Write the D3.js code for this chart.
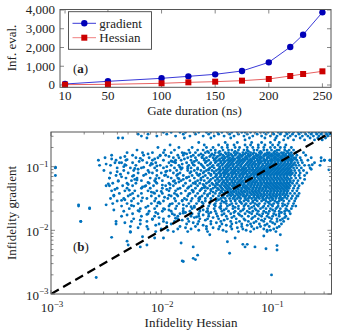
<!DOCTYPE html>
<html><head><meta charset="utf-8">
<script src="https://cdn.jsdelivr.net/npm/d3@7"></script>
<style>body{margin:0;background:#fff}svg{display:block}text{font-family:'Liberation Serif',serif;fill:#222}</style>
</head><body><svg id="c" width="337" height="335"></svg>
<script>
// ---------- panel (a) data ----------
const gateDur = [10, 50, 100, 125, 150, 175, 200, 220, 232, 250];
const evalGradient = [53, 196, 356, 462, 569, 747, 1209, 2027, 2684, 3876];
const evalHessian = [18, 36, 89, 142, 178, 231, 320, 480, 587, 729];
const xTicksA = [10, 50, 100, 150, 200, 250];
const yTicksA = [0, 1000, 2000, 3000, 4000];

// ---------- panel (b) data (log10 of infidelity), read row by row ----------
const gradRowsLog = [-0.46,-0.49,-0.52,-0.55,-0.58,-0.62,-0.66,-0.70,-0.74,-0.78,-0.82,-0.86,-0.90,-0.94,-0.98,-1.02,-1.06,-1.10,-1.14,-1.18,-1.22,-1.26,-1.30,-1.34,-1.38,-1.42,-1.46,-1.50,-1.54,-1.58,-1.62,-1.66,-1.70,-1.74,-1.78,-1.82,-1.86,-1.90,-1.94,-1.98,-2.02];
const hessRowsLog = [
[-1.98,-1.91,-1.83,-1.78,-1.70,-1.66,-1.59,-1.55,-1.49,-1.45,-1.40,-1.36,-1.31,-1.27,-1.24,-1.19,-1.15,-1.10,-1.07,-1.03,-0.99,-0.94,-0.91,-0.87,-0.84,-0.80,-0.76,-0.73,-0.70,-0.66,-0.63,-0.60,-0.57,-0.54,-0.51,-0.48],
[-2.21,-2.12,-1.95,-1.80,-1.69,-1.57,-1.48,-1.38,-1.30,-1.22,-1.13,-1.05,-0.98,-0.92,-0.86,-0.81,-0.75,-0.69,-0.64,-0.59,-0.55,-0.50,-0.47],
[-2.18,-2.04,-1.87,-1.74,-1.62,-1.52,-1.43,-1.34,-1.25,-1.17,-1.09,-1.01,-0.95,-0.88,-0.83,-0.78,-0.72,-0.67,-0.62,-0.57,-0.53,-0.49],
[-2.39,-2.35,-2.13,-1.79,-1.55,-1.37,-1.20,-1.06,-0.96,-0.85,-0.74,-0.65,-0.58,-0.51],
[-1.24,-0.97,-0.89,-0.80,-0.70,-0.61,-0.54],
[-1.66,-1.42,-1.31,-1.18,-1.09,-1.01,-0.93],
[-1.92,-1.61,-1.48,-1.40,-1.34,-1.24,-1.19,-1.12,-1.06,-0.99,-0.94,-0.87],
[-2.03,-1.84,-1.72,-1.59,-1.53,-1.45,-1.40,-1.33,-1.29,-1.22,-1.17,-1.12,-1.07,-1.01,-0.97,-0.92,-0.88,-0.82],
[-2.22,-1.97,-1.88,-1.75,-1.67,-1.62,-1.55,-1.51,-1.44,-1.39,-1.36,-1.30,-1.25,-1.22,-1.16,-1.13,-1.07,-1.04,-1.00,-0.95,-0.93,-0.88,-0.84,-0.80],
[-2.31,-2.17,-2.08,-1.98,-1.91,-1.81,-1.74,-1.69,-1.60,-1.57,-1.51,-1.48,-1.42,-1.39,-1.34,-1.31,-1.26,-1.23,-1.19,-1.16,-1.11,-1.09,-1.04,-1.02,-0.98,-0.95,-0.91,-0.89,-0.85,-0.82,-0.78,-0.71],
[-2.45,-2.26,-2.16,-2.01,-1.96,-1.85,-1.80,-1.71,-1.66,-1.62,-1.55,-1.52,-1.47,-1.44,-1.39,-1.36,-1.33,-1.28,-1.26,-1.21,-1.19,-1.14,-1.12,-1.07,-1.05,-1.01,-0.99,-0.95,-0.93,-0.89,-0.87,-0.83,-0.81,-0.77,-0.69],
[-2.51,-2.37,-2.23,-2.11,-2.03,-1.89,-1.84,-1.76,-1.69,-1.63,-1.59,-1.53,-1.50,-1.45,-1.42,-1.38,-1.35,-1.31,-1.29,-1.24,-1.22,-1.17,-1.15,-1.11,-1.09,-1.04,-1.02,-0.98,-0.96,-0.92,-0.90,-0.86,-0.84,-0.80,-0.78,-0.74,-0.64,-0.55],
[-2.57,-2.41,-2.32,-2.17,-2.08,-1.98,-1.87,-1.82,-1.73,-1.68,-1.61,-1.57,-1.52,-1.48,-1.44,-1.40,-1.37,-1.34,-1.30,-1.27,-1.24,-1.20,-1.18,-1.13,-1.11,-1.07,-1.05,-1.01,-0.99,-0.95,-0.93,-0.89,-0.87,-0.83,-0.81,-0.77,-0.73,-0.67,-0.52,-0.47],
[-2.42,-2.38,-2.36,-2.26,-2.13,-2.05,-1.93,-1.87,-1.77,-1.72,-1.66,-1.60,-1.55,-1.51,-1.46,-1.43,-1.39,-1.36,-1.32,-1.29,-1.26,-1.22,-1.19,-1.16,-1.12,-1.10,-1.06,-1.03,-1.00,-0.97,-0.94,-0.91,-0.88,-0.85,-0.82,-0.79,-0.76,-0.72,-0.61],
[-2.56,-2.46,-2.32,-2.23,-2.10,-2.01,-1.91,-1.84,-1.75,-1.70,-1.63,-1.58,-1.53,-1.49,-1.45,-1.41,-1.38,-1.35,-1.31,-1.28,-1.24,-1.21,-1.18,-1.15,-1.12,-1.08,-1.05,-1.02,-0.99,-0.96,-0.93,-0.90,-0.87,-0.84,-0.81,-0.78,-0.75,-0.70,-0.66,-0.56],
[-2.96,-2.40,-2.28,-2.18,-2.06,-1.98,-1.88,-1.81,-1.73,-1.67,-1.61,-1.56,-1.52,-1.47,-1.44,-1.40,-1.37,-1.33,-1.30,-1.26,-1.23,-1.20,-1.17,-1.13,-1.10,-1.07,-1.04,-1.01,-0.98,-0.95,-0.92,-0.89,-0.86,-0.83,-0.80,-0.77,-0.73,-0.65],
[-2.52,-2.34,-2.25,-2.12,-2.04,-1.92,-1.86,-1.76,-1.70,-1.64,-1.59,-1.54,-1.50,-1.46,-1.42,-1.39,-1.35,-1.32,-1.28,-1.25,-1.22,-1.18,-1.15,-1.12,-1.09,-1.06,-1.03,-1.00,-0.97,-0.94,-0.91,-0.88,-0.85,-0.82,-0.79,-0.75,-0.71],
[-2.46,-2.30,-2.21,-2.08,-2.00,-1.89,-1.83,-1.74,-1.68,-1.62,-1.57,-1.52,-1.48,-1.44,-1.41,-1.37,-1.34,-1.30,-1.27,-1.24,-1.20,-1.17,-1.14,-1.11,-1.08,-1.05,-1.02,-0.99,-0.96,-0.93,-0.90,-0.87,-0.84,-0.81,-0.78,-0.74],
[-2.96,-2.41,-2.25,-2.16,-2.04,-1.97,-1.86,-1.80,-1.72,-1.66,-1.60,-1.55,-1.50,-1.46,-1.43,-1.39,-1.36,-1.32,-1.29,-1.26,-1.22,-1.19,-1.16,-1.13,-1.10,-1.07,-1.04,-1.01,-0.98,-0.95,-0.92,-0.89,-0.86,-0.83,-0.79,-0.75,-0.70],
[-2.47,-2.32,-2.22,-2.10,-2.02,-1.91,-1.85,-1.77,-1.70,-1.64,-1.58,-1.53,-1.49,-1.45,-1.41,-1.38,-1.34,-1.31,-1.27,-1.24,-1.21,-1.18,-1.15,-1.12,-1.09,-1.06,-1.03,-1.00,-0.97,-0.94,-0.91,-0.88,-0.85,-0.82,-0.78,-0.74],
[-2.39,-2.27,-2.18,-2.06,-1.99,-1.88,-1.82,-1.74,-1.67,-1.61,-1.56,-1.51,-1.47,-1.43,-1.40,-1.36,-1.33,-1.29,-1.26,-1.23,-1.19,-1.16,-1.13,-1.10,-1.07,-1.04,-1.01,-0.98,-0.95,-0.92,-0.89,-0.86,-0.83,-0.80,-0.76],
[-2.44,-2.31,-2.23,-2.11,-2.04,-1.93,-1.87,-1.78,-1.71,-1.65,-1.59,-1.54,-1.50,-1.45,-1.42,-1.38,-1.35,-1.31,-1.28,-1.25,-1.21,-1.18,-1.15,-1.12,-1.09,-1.06,-1.03,-1.00,-0.97,-0.94,-0.91,-0.88,-0.85,-0.81,-0.77,-0.72],
[-2.50,-2.47,-2.35,-2.26,-2.14,-2.07,-1.96,-1.89,-1.80,-1.73,-1.67,-1.61,-1.56,-1.51,-1.47,-1.43,-1.40,-1.36,-1.33,-1.29,-1.26,-1.23,-1.19,-1.16,-1.13,-1.10,-1.07,-1.04,-1.01,-0.98,-0.95,-0.92,-0.89,-0.86,-0.83,-0.79,-0.75],
[-2.40,-2.31,-2.18,-2.10,-1.99,-1.92,-1.83,-1.76,-1.69,-1.63,-1.58,-1.53,-1.49,-1.45,-1.41,-1.38,-1.34,-1.31,-1.27,-1.24,-1.21,-1.17,-1.14,-1.11,-1.08,-1.05,-1.02,-0.99,-0.96,-0.93,-0.90,-0.87,-0.84,-0.80,-0.76],
[-2.45,-2.33,-2.24,-2.12,-2.04,-1.93,-1.87,-1.78,-1.71,-1.65,-1.60,-1.55,-1.50,-1.46,-1.42,-1.39,-1.35,-1.32,-1.28,-1.25,-1.22,-1.18,-1.15,-1.12,-1.09,-1.06,-1.03,-1.00,-0.97,-0.94,-0.91,-0.88,-0.85,-0.81,-0.77],
[-2.38,-2.26,-2.18,-2.06,-1.99,-1.88,-1.82,-1.74,-1.67,-1.61,-1.56,-1.51,-1.47,-1.43,-1.39,-1.36,-1.32,-1.29,-1.26,-1.22,-1.19,-1.16,-1.13,-1.10,-1.07,-1.04,-1.01,-0.98,-0.95,-0.92,-0.89,-0.86,-0.83,-0.79,-0.75],
[-2.43,-2.30,-2.21,-2.09,-2.02,-1.91,-1.85,-1.76,-1.69,-1.63,-1.58,-1.53,-1.48,-1.44,-1.40,-1.37,-1.33,-1.30,-1.26,-1.23,-1.20,-1.16,-1.13,-1.10,-1.07,-1.04,-1.01,-0.98,-0.95,-0.92,-0.88,-0.85,-0.81,-0.77],
[-2.46,-2.34,-2.25,-2.13,-2.05,-1.94,-1.88,-1.79,-1.72,-1.66,-1.60,-1.55,-1.50,-1.46,-1.42,-1.38,-1.35,-1.31,-1.28,-1.24,-1.21,-1.18,-1.14,-1.11,-1.08,-1.05,-1.02,-0.99,-0.96,-0.93,-0.90,-0.86,-0.82,-0.78],
[-2.40,-2.27,-2.18,-2.06,-1.98,-1.87,-1.81,-1.73,-1.66,-1.60,-1.55,-1.50,-1.45,-1.41,-1.37,-1.33,-1.29,-1.25,-1.21,-1.17,-1.13,-1.09,-1.05,-1.01,-0.97,-0.93,-0.89,-0.84,-0.79],
[-2.44,-2.31,-2.21,-2.09,-2.01,-1.90,-1.84,-1.75,-1.68,-1.62,-1.56,-1.51,-1.46,-1.41,-1.36,-1.32,-1.27,-1.23,-1.19,-1.15,-1.11,-1.06,-1.02,-0.98,-0.94,-0.90,-0.85,-0.80],
[-2.75,-2.36,-2.25,-2.12,-2.04,-1.93,-1.86,-1.77,-1.70,-1.63,-1.57,-1.51,-1.46,-1.40,-1.35,-1.30,-1.25,-1.21,-1.16,-1.12,-1.07,-1.03,-0.99,-0.94,-0.90,-0.86,-0.81],
[-2.65,-2.29,-2.19,-2.06,-1.98,-1.87,-1.80,-1.72,-1.65,-1.58,-1.52,-1.46,-1.41,-1.35,-1.30,-1.25,-1.20,-1.15,-1.10,-1.05,-1.01,-0.96,-0.92,-0.87,-0.82],
[-2.34,-2.20,-2.11,-1.99,-1.91,-1.80,-1.74,-1.65,-1.58,-1.51,-1.45,-1.39,-1.33,-1.28,-1.22,-1.17,-1.12,-1.07,-1.02,-0.97,-0.93,-0.88,-0.84],
[-2.26,-2.12,-2.03,-1.90,-1.83,-1.72,-1.66,-1.57,-1.50,-1.43,-1.37,-1.30,-1.24,-1.18,-1.13,-1.08,-1.03,-0.98,-0.93,-0.88,-0.83],
[-2.36,-2.18,-2.06,-1.93,-1.85,-1.73,-1.66,-1.57,-1.49,-1.41,-1.34,-1.27,-1.21,-1.15,-1.09,-1.04,-0.99,-0.93,-0.87],
[-2.25,-2.08,-1.98,-1.85,-1.76,-1.65,-1.58,-1.48,-1.40,-1.32,-1.25,-1.18,-1.12,-1.06,-1.00,-0.95,-0.90,-0.85],
[-2.73,-2.41,-2.27,-2.13,-1.98,-1.88,-1.75,-1.66,-1.55,-1.46,-1.37,-1.29,-1.21,-1.14,-1.07,-1.01,-0.95,-0.89],
[-2.41,-2.19,-2.02,-1.91,-1.77,-1.67,-1.55,-1.45,-1.36,-1.27,-1.19,-1.11,-1.04,-0.97,-0.91],
[-2.28,-2.13,-1.95,-1.83,-1.69,-1.59,-1.47,-1.37,-1.27,-1.18,-1.10,-1.02,-0.93],
[-2.12,-2.00,-1.85,-1.73,-1.59,-1.48,-1.36,-1.26,-1.16,-1.07,-0.98],
[-2.28,-2.05,-1.89,-1.76,-1.58,-1.41,-1.30,-1.19,-1.04,-0.96]
];
// in-between rows that fill the dense core
const gradRowsLog2 = [-0.76,-0.80,-0.84,-0.88,-0.92,-0.96,-1.00,-1.04,-1.08,-1.12,-1.16,-1.20,-1.24,-1.28,-1.32,-1.36,-1.40,-1.44,-1.48,-1.52,-1.56,-1.60,-1.64,-1.68,-1.72,-1.76,-1.80,-1.84,-1.88,-1.92,-1.96,-2.00];
const hessRowsLog2 = [
[-1.58,-1.47,-1.33,-1.21,-1.10,-0.97,-0.86],
[-2.12,-1.77,-1.64,-1.54,-1.46,-1.41,-1.37,-1.32,-1.29,-1.24,-1.21,-1.17,-1.14,-1.10,-1.06,-1.03,-1.00,-0.97,-0.93,-0.90,-0.87,-0.84],
[-2.33,-1.93,-1.73,-1.56,-1.49,-1.43,-1.40,-1.35,-1.30,-1.27,-1.23,-1.20,-1.16,-1.13,-1.10,-1.07,-1.03,-1.00,-0.97,-0.94,-0.91,-0.88,-0.85,-0.82],
[-2.45,-2.06,-1.79,-1.61,-1.51,-1.47,-1.43,-1.39,-1.36,-1.33,-1.29,-1.26,-1.22,-1.19,-1.16,-1.13,-1.10,-1.07,-1.04,-1.00,-0.97,-0.94,-0.91,-0.88,-0.85,-0.82,-0.79],
[-2.20,-1.90,-1.70,-1.59,-1.50,-1.46,-1.42,-1.38,-1.35,-1.31,-1.28,-1.25,-1.21,-1.18,-1.15,-1.12,-1.09,-1.06,-1.03,-1.00,-0.97,-0.94,-0.91,-0.88,-0.85,-0.82],
[-2.50,-2.08,-1.81,-1.64,-1.56,-1.48,-1.44,-1.40,-1.37,-1.34,-1.30,-1.27,-1.23,-1.20,-1.17,-1.14,-1.11,-1.08,-1.04,-1.01,-0.98,-0.95,-0.92,-0.89,-0.86,-0.83,-0.80],
[-2.34,-1.95,-1.76,-1.62,-1.54,-1.47,-1.42,-1.39,-1.35,-1.32,-1.28,-1.25,-1.21,-1.18,-1.15,-1.12,-1.09,-1.06,-1.03,-1.00,-0.97,-0.94,-0.91,-0.88,-0.85,-0.82],
[-2.21,-1.82,-1.67,-1.57,-1.48,-1.44,-1.41,-1.37,-1.34,-1.30,-1.27,-1.24,-1.20,-1.17,-1.14,-1.11,-1.08,-1.05,-1.02,-0.99,-0.96,-0.93,-0.90,-0.87,-0.84],
[-2.40,-1.96,-1.73,-1.61,-1.52,-1.47,-1.43,-1.40,-1.36,-1.33,-1.30,-1.26,-1.23,-1.20,-1.16,-1.13,-1.10,-1.07,-1.04,-1.01,-0.98,-0.95,-0.92,-0.89,-0.86,-0.83],
[-2.14,-1.85,-1.65,-1.55,-1.50,-1.46,-1.42,-1.39,-1.35,-1.32,-1.28,-1.25,-1.22,-1.18,-1.15,-1.12,-1.09,-1.06,-1.03,-1.00,-0.97,-0.94,-0.91,-0.88,-0.85,-0.82],
[-2.36,-1.94,-1.75,-1.62,-1.51,-1.47,-1.43,-1.40,-1.36,-1.33,-1.29,-1.26,-1.23,-1.20,-1.16,-1.13,-1.10,-1.07,-1.04,-1.01,-0.98,-0.95,-0.92,-0.89,-0.86],
[-2.24,-1.80,-1.64,-1.55,-1.49,-1.45,-1.41,-1.38,-1.35,-1.31,-1.28,-1.24,-1.21,-1.18,-1.15,-1.11,-1.08,-1.05,-1.02,-0.99,-0.96,-0.93,-0.90,-0.87,-0.84],
[-2.05,-1.84,-1.69,-1.57,-1.48,-1.44,-1.40,-1.36,-1.33,-1.30,-1.27,-1.23,-1.20,-1.17,-1.14,-1.10,-1.07,-1.04,-1.01,-0.98,-0.95,-0.92,-0.89,-0.86,-0.83],
[-2.30,-1.92,-1.62,-1.53,-1.49,-1.45,-1.41,-1.38,-1.34,-1.31,-1.28,-1.25,-1.21,-1.18,-1.15,-1.12,-1.09,-1.05,-1.02,-0.99,-0.96,-0.93,-0.90,-0.87,-0.84],
[-2.17,-1.75,-1.60,-1.51,-1.46,-1.42,-1.39,-1.35,-1.32,-1.29,-1.25,-1.22,-1.19,-1.16,-1.13,-1.10,-1.06,-1.03,-1.00,-0.97,-0.94,-0.91,-0.88,-0.85],
[-2.42,-1.95,-1.64,-1.55,-1.48,-1.44,-1.40,-1.37,-1.33,-1.30,-1.27,-1.23,-1.20,-1.17,-1.14,-1.11,-1.08,-1.05,-1.01,-0.98,-0.95,-0.92,-0.89,-0.86],
[-2.09,-1.71,-1.53,-1.45,-1.41,-1.37,-1.34,-1.30,-1.27,-1.24,-1.20,-1.17,-1.14,-1.11,-1.07,-1.04,-1.01,-0.98,-0.95,-0.92,-0.89,-0.86],
[-2.28,-1.86,-1.58,-1.43,-1.38,-1.35,-1.31,-1.28,-1.25,-1.22,-1.18,-1.15,-1.12,-1.09,-1.06,-1.02,-0.99,-0.96,-0.93,-0.90,-0.87],
[-1.97,-1.65,-1.44,-1.34,-1.29,-1.24,-1.20,-1.16,-1.12,-1.08,-1.04,-1.00,-0.96,-0.92,-0.88],
[-2.33,-1.77,-1.48,-1.33,-1.23,-1.15,-1.07,-0.99,-0.91],
[-2.02,-1.63,-1.43,-1.28,-1.17,-1.03,-0.95],
[-2.50,-1.80,-1.52,-1.38,-1.24,-1.13,-1.00,-0.88],
[-2.14,-1.70,-1.47,-1.33,-1.18,-1.08,-0.95],
[-2.43,-1.93,-1.62,-1.43,-1.26,-1.14,-0.99,-0.86],
[-2.05,-1.78,-1.55,-1.34,-1.20,-1.05,-0.91],
[-2.31,-1.88,-1.62,-1.45,-1.29,-1.11,-0.96],
[-2.02,-1.70,-1.53,-1.36,-1.17,-1.02,-0.88],
[-2.19,-1.81,-1.60,-1.43,-1.24,-1.09,-0.92],
[-2.33,-1.95,-1.71,-1.50,-1.32,-1.16,-0.99],
[-2.05,-1.62,-1.41,-1.22,-1.06],
[-2.21,-1.78,-1.53,-1.31,-1.13,-0.95],
[-1.94,-1.66,-1.44,-1.23,-1.01]
];
// scattered points on the left side of the cloud (log10 Hessian, log10 gradient)
const leftHessLog = [-2.48,-2.43,-2.37,-2.33,-2.29,-2.27,-2.24,-2.22,-2.19,-2.17,-2.15,-2.13,-2.11,-2.09,-2.07,-2.05,-2.03,-2.01,-1.99,-1.97,-1.95,-1.93,-1.91,-1.89,-1.87,-1.85,-1.83,-1.81,-1.79,-1.77,-1.75,-1.73,-1.71,-1.69,-1.67,-1.65,-1.63,-1.61,-1.59,-1.57,-2.36,-2.31,-2.26,-2.21,-2.16,-2.12,-2.08,-2.04,-2.00,-1.96,-1.92,-1.88,-1.84,-1.80,-1.76,-1.72,-1.68,-1.64];
const leftGradLog = [-1.27,-1.45,-1.12,-0.97,-1.37,-1.61,-1.03,-1.21,-0.87,-1.49,-1.31,-1.75,-1.09,-0.95,-1.41,-1.19,-1.57,-0.83,-1.29,-1.67,-1.07,-1.45,-0.91,-1.23,-1.81,-1.35,-1.01,-1.53,-0.79,-1.17,-1.43,-1.63,-0.97,-1.27,-1.13,-1.51,-0.85,-1.33,-1.71,-1.05,-1.53,-0.89,-1.15,-1.69,-1.01,-1.25,-1.83,-0.99,-1.39,-1.13,-1.59,-0.93,-1.19,-1.73,-1.03,-1.37,-1.79,-1.21];
// isolated points (log10 Hessian, log10 gradient)
const outlierHessLog = [-2.59,-2.45,-2.30,-2.31,-2.28,-2.19,-2.13,-2.17,-2.06,-1.98,-1.82,-1.80,-1.71,-1.71,-1.69,-1.56,-1.40,-1.38,-1.33,-1.26,-1.22,-1.15,-1.05,-0.95,-0.95,-1.00,-0.92,-1.07,-1.24,-1.81,-1.67,-1.04,-2.73,-2.75,-2.65,-2.96,-2.47,-2.39,-0.64,-0.63,-0.55,-0.52,-0.48,-0.47,-0.76,-0.78,-0.70,-0.68];
const outlierGradLog = [-2.74,-2.11,-2.23,-2.17,-2.03,-2.26,-2.23,-2.10,-2.12,-2.12,-2.20,-2.49,-2.26,-2.44,-2.46,-2.07,-2.18,-2.36,-2.12,-2.22,-2.22,-2.26,-2.29,-2.31,-2.24,-2.70,-2.07,-2.09,-2.26,-2.48,-2.39,-2.00,-1.86,-1.60,-1.65,-1.01,-1.18,-1.23,-1.04,-0.97,-0.91,-0.90,-1.05,-0.90,-1.46,-1.62,-1.20,-1.10];

const svg = d3.select('#c');

// ================= Panel (a) =================
const xA = d3.scaleLinear([5.3, 258], [60, 331]);
const yA = d3.scaleLinear([-123, 4027], [87.3, 9.5]);
const gA = svg.append('g');
xTicksA.forEach(t => {
  gA.append('line').attr('x1', xA(t)).attr('x2', xA(t)).attr('y1', yA.range()[0]).attr('y2', yA.range()[0]-4).attr('stroke', '#888');
  gA.append('line').attr('x1', xA(t)).attr('x2', xA(t)).attr('y1', yA.range()[1]).attr('y2', yA.range()[1]+4).attr('stroke', '#888');
  gA.append('text').attr('x', xA(t)).attr('y', 99.5).attr('text-anchor', 'middle').attr('font-size', 13).text(t);
});
yTicksA.forEach(t => {
  gA.append('line').attr('x1', 60).attr('x2', 64).attr('y1', yA(t)).attr('y2', yA(t)).attr('stroke', '#888');
  gA.append('line').attr('x1', 331).attr('x2', 327).attr('y1', yA(t)).attr('y2', yA(t)).attr('stroke', '#888');
  gA.append('text').attr('x', 55).attr('y', yA(t)+4.3).attr('text-anchor', 'end').attr('font-size', 13).text(d3.format(',')(t));
});
const lineA = d3.line().x((d, i) => xA(gateDur[i])).y(d => yA(d));
gA.append('path').datum(evalGradient).attr('d', lineA).attr('fill', 'none').attr('stroke', '#3a3ad8').attr('stroke-width', 1);
gA.append('path').datum(evalHessian).attr('d', lineA).attr('fill', 'none').attr('stroke', '#e86060').attr('stroke-width', 1);
gA.selectAll('circle.g').data(evalGradient).join('circle').attr('cx', (d, i) => xA(gateDur[i])).attr('cy', d => yA(d)).attr('r', 3.2).attr('fill', '#0000b8');
gA.selectAll('rect.h').data(evalHessian).join('rect').attr('x', (d, i) => xA(gateDur[i]) - 3).attr('y', d => yA(d) - 3).attr('width', 6).attr('height', 6).attr('fill', '#cc0000');
gA.append('rect').attr('x', 60).attr('y', 9.5).attr('width', 271).attr('height', 77.8).attr('fill', 'none').attr('stroke', '#555').attr('stroke-width', 1);
const lg = gA.append('g');
lg.append('rect').attr('x', 68.5).attr('y', 11.7).attr('width', 83).attr('height', 37.6).attr('fill', '#fff').attr('stroke', '#444').attr('stroke-width', 0.9);
lg.append('line').attr('x1', 72.5).attr('x2', 96).attr('y1', 23.3).attr('y2', 23.3).attr('stroke', '#3a3ad8');
lg.append('circle').attr('cx', 84.3).attr('cy', 23.3).attr('r', 3.2).attr('fill', '#0000b8');
lg.append('text').attr('x', 99.3).attr('y', 27.5).attr('font-size', 13).text('gradient');
lg.append('line').attr('x1', 72.5).attr('x2', 96).attr('y1', 37.7).attr('y2', 37.7).attr('stroke', '#f08080');
lg.append('rect').attr('x', 81.3).attr('y', 34.7).attr('width', 6).attr('height', 6).attr('fill', '#cc0000');
lg.append('text').attr('x', 99.3).attr('y', 42).attr('font-size', 13).text('Hessian');
gA.append('text').attr('x', 73).attr('y', 72.5).attr('font-size', 13).html('(<tspan font-weight="bold">a</tspan>)');
gA.append('text').attr('transform', 'translate(16,48) rotate(-90)').attr('text-anchor', 'middle').attr('font-size', 13).text('Inf. eval.');
gA.append('text').attr('x', 194.5).attr('y', 114.5).attr('text-anchor', 'middle').attr('font-size', 13).text('Gate duration (ns)');

// ================= Panel (b) =================
const xB = d3.scaleLog([1e-3, 0.35], [51, 331.5]);
const yB = d3.scaleLog([1e-3, 0.35], [294, 132]);
const gB = svg.append('g');
svg.append('defs').append('clipPath').attr('id', 'clipB').append('rect').attr('x', 51).attr('y', 132).attr('width', 280.5).attr('height', 162);
const pts = [];
gradRowsLog.forEach((gy, i) => hessRowsLog[i].forEach(hx => pts.push([Math.pow(10, hx), Math.pow(10, gy)])));
gradRowsLog2.forEach((gy, i) => hessRowsLog2[i].forEach(hx => pts.push([Math.pow(10, hx), Math.pow(10, gy)])));
leftHessLog.forEach((hx, i) => pts.push([Math.pow(10, hx), Math.pow(10, leftGradLog[i])]));
outlierHessLog.forEach((hx, i) => pts.push([Math.pow(10, hx), Math.pow(10, outlierGradLog[i])]));
const pg = gB.append('g').attr('clip-path', 'url(#clipB)');
pg.selectAll('circle').data(pts).join('circle').attr('cx', d => xB(d[0])).attr('cy', d => yB(d[1])).attr('r', 1.45).attr('fill', '#0072bd');
pg.append('line').attr('x1', xB(1e-3)).attr('y1', yB(1e-3)).attr('x2', xB(0.35)).attr('y2', yB(0.35))
  .attr('stroke', '#000').attr('stroke-width', 2.2).attr('stroke-dasharray', '9,5');
const decs = [1e-3, 1e-2, 1e-1];
const minors = [];
decs.forEach(d => { for (let k = 2; k <= 9; k++) if (d * k <= 0.35) minors.push(d * k); });
const tk = (v, len) => {
  gB.append('line').attr('x1', xB(v)).attr('x2', xB(v)).attr('y1', 294).attr('y2', 294 - len).attr('stroke', '#888');
  gB.append('line').attr('x1', xB(v)).attr('x2', xB(v)).attr('y1', 132).attr('y2', 132 + len).attr('stroke', '#888');
  gB.append('line').attr('y1', yB(v)).attr('y2', yB(v)).attr('x1', 51).attr('x2', 51 + len).attr('stroke', '#888');
  gB.append('line').attr('y1', yB(v)).attr('y2', yB(v)).attr('x1', 331.5).attr('x2', 331.5 - len).attr('stroke', '#888');
};
decs.forEach(v => tk(v, 4));
minors.forEach(v => tk(v, 2.5));
const expLabel = (sel, e) => { sel.append('tspan').text('10'); sel.append('tspan').attr('dy', -5.5).attr('font-size', 9).text('\u2212' + e); };
decs.forEach((v, i) => {
  const e = 3 - i;
  expLabel(gB.append('text').attr('x', xB(v) + 1).attr('y', 312).attr('text-anchor', 'middle').attr('font-size', 13), e);
  expLabel(gB.append('text').attr('x', 48.5).attr('y', yB(v) + 5.5).attr('text-anchor', 'end').attr('font-size', 13), e);
});
gB.append('rect').attr('x', 51).attr('y', 132).attr('width', 280.5).attr('height', 162).attr('fill', 'none').attr('stroke', '#555');
gB.append('text').attr('x', 73).attr('y', 250.5).attr('font-size', 13).html('(<tspan font-weight="bold">b</tspan>)');
gB.append('text').attr('transform', 'translate(16,213) rotate(-90)').attr('text-anchor', 'middle').attr('font-size', 13).text('Infidelity gradient');
gB.append('text').attr('x', 191).attr('y', 327).attr('text-anchor', 'middle').attr('font-size', 13).text('Infidelity Hessian');
</script></body></html>
